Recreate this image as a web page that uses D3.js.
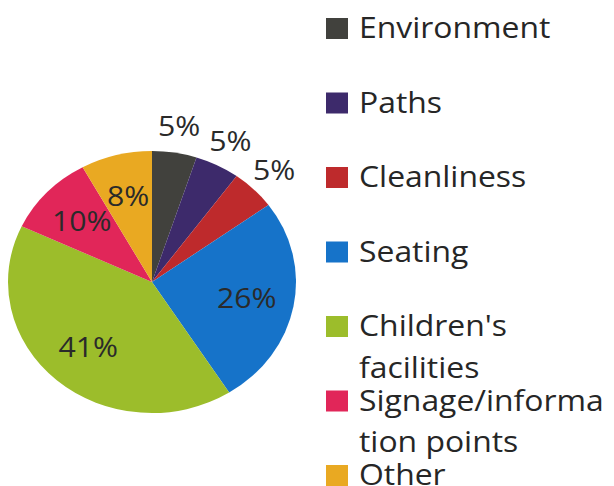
<!DOCTYPE html>
<html>
<head>
<meta charset="utf-8">
<script src="https://cdn.jsdelivr.net/npm/d3@7"></script>
<style>
  body { margin: 0; background: #fff; }
  svg { display: block; font-family: "Open Sans", sans-serif; }
</style>
</head>
<body>
<div class="chart"></div>
<script>
// data
var categories = ["Environment", "Paths", "Cleanliness", "Seating", "Children's facilities", "Signage/information points", "Other"];
var legendLines = [["Environment"], ["Paths"], ["Cleanliness"], ["Seating"], ["Children's", "facilities"], ["Signage/informa", "tion points"], ["Other"]];
var values = [5, 5, 5, 26, 41, 10, 8];
var colors = ["#41413d", "#3d2a6b", "#be2a2c", "#1673c9", "#9cbd2b", "#e12659", "#e9a922"];

var width = 614, height = 486;
var cx = 152, cy = 282, rx = 144, ry = 131;

var svg = d3.select(".chart").append("svg")
    .attr("width", width)
    .attr("height", height);

var data = categories.map(function(c, i) { return {name: c, value: values[i], color: colors[i]}; });

var pie = d3.pie().sort(null).value(function(d) { return d.value; });
var arcs = pie(data);
var arc = d3.arc().innerRadius(0).outerRadius(rx);

// pie is drawn as a circle, then squashed into an ellipse
svg.append("g")
    .attr("transform", "translate(" + cx + "," + cy + ") scale(1," + (ry / rx) + ")")
    .selectAll("path")
    .data(arcs)
    .enter().append("path")
    .attr("d", arc)
    .attr("fill", function(d) { return d.data.color; });

// labels (small slices go outside)
function labelPos(d) {
    var a = (d.startAngle + d.endAngle) / 2, k = d.data.value < 6 ? 1.2 : 0.67;
    return [cx + rx * k * Math.sin(a), cy - ry * k * Math.cos(a)];
}

svg.append("g")
    .selectAll("text")
    .data(arcs)
    .enter().append("text")
    .attr("transform", function(d) {
        var p = labelPos(d);
        return "translate(" + p[0] + "," + p[1] + ") scale(1.12,1)";
    })
    .attr("dy", "0.35em")
    .attr("text-anchor", "middle")
    .style("font-size", "27px")
    .style("fill", "#2a2a2a")
    .text(function(d) { return d.data.value + "%"; });

// legend
var legend = svg.append("g").selectAll("g")
    .data(data)
    .enter().append("g")
    .attr("transform", function(d, i) { return "translate(326," + (38 + i * 74.5) + ")"; });

legend.append("rect")
    .attr("x", 0)
    .attr("y", -20)
    .attr("width", 22)
    .attr("height", 21)
    .attr("fill", function(d) { return d.color; });

legend.append("text")
    .attr("transform", "translate(33,0) scale(1.1,1)")
    .style("font-size", "29px")
    .style("fill", "#262626")
    .selectAll("tspan")
    .data(function(d, i) { return legendLines[i]; })
    .enter().append("tspan")
    .attr("x", 0)
    .attr("y", function(d, j) { return j * 42; })
    .text(function(d) { return d; });
</script>
</body>
</html>
